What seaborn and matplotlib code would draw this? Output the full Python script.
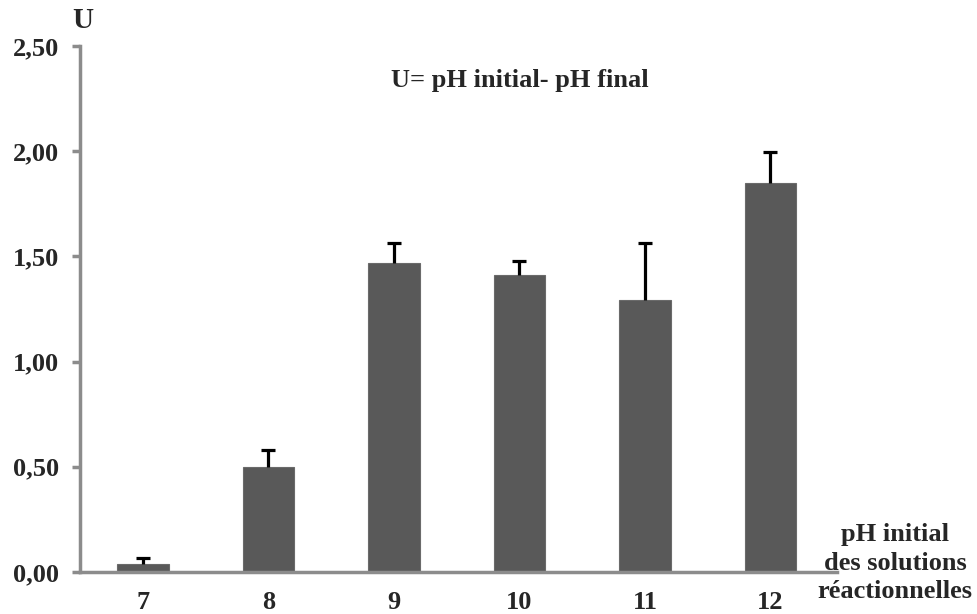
import matplotlib
matplotlib.use("Agg")
import matplotlib.pyplot as plt
import seaborn as sns
import numpy as np
import pandas as pd

categories = ["7", "8", "9", "10", "11", "12"]
values = [0.038, 0.50, 1.47, 1.41, 1.295, 1.85]
err_upper = [0.03, 0.08, 0.095, 0.07, 0.27, 0.145]
y_ticks = [0.0, 0.5, 1.0, 1.5, 2.0, 2.5]
y_tick_labels = ["0,00", "0,50", "1,00", "1,50", "2,00", "2,50"]

sns.set_theme(style="white")
plt.rcParams["font.family"] = ["Liberation Serif", "DejaVu Serif"]
plt.rcParams["font.weight"] = "bold"

df = pd.DataFrame({"ph": categories, "U": values})

fig = plt.figure(figsize=(9.78, 6.14), dpi=100)
ax = fig.add_axes([80/978, 1 - 572/614, (837-80)/978, (572-46)/614])

sns.barplot(data=df, x="ph", y="U", color="#595959", saturation=1, width=0.41,
            edgecolor="#6a6a6a", linewidth=0.8, ax=ax, errorbar=None)

xs = np.arange(len(categories))
tops = np.array(values) + np.array(err_upper)
ax.vlines(xs, values, tops, colors="black", linewidth=2.3, zorder=4)
ax.plot(xs, tops, linestyle="none", marker="_", markersize=10, markeredgewidth=2.3,
        color="black", zorder=4)

ax.set_xlim(-0.5, 5.53)
ax.set_ylim(0, 2.5)
ax.set_yticks(y_ticks)
ax.set_yticklabels(y_tick_labels, fontsize=19, fontweight="bold")
ax.set_xticks(xs)
ax.set_xticklabels(categories, fontsize=19, fontweight="bold")
ax.set_xlabel("")
ax.set_ylabel("")

for s in ["top", "right"]:
    ax.spines[s].set_visible(False)
for s in ["left", "bottom"]:
    ax.spines[s].set_color("#8c8c8c")
    ax.spines[s].set_linewidth(2.5)

ax.tick_params(axis="y", which="both", left=True, length=6, width=2.5, color="#8c8c8c", pad=9)
ax.tick_params(axis="x", which="both", bottom=False, pad=8)

fig.text(83/978, 1 - 20/614, "U", fontsize=21, fontweight="bold", ha="center", va="center")
fig.text(520/978, 1 - 80/614, "U= pH initial- pH final", fontsize=19, fontweight="bold",
         ha="center", va="center")
fig.text(895/978, 1 - 563/614, "pH initial\ndes solutions\nréactionnelles", fontsize=19,
         fontweight="bold", ha="center", va="center", linespacing=1.3)

fig.savefig("out.png", dpi=100)
